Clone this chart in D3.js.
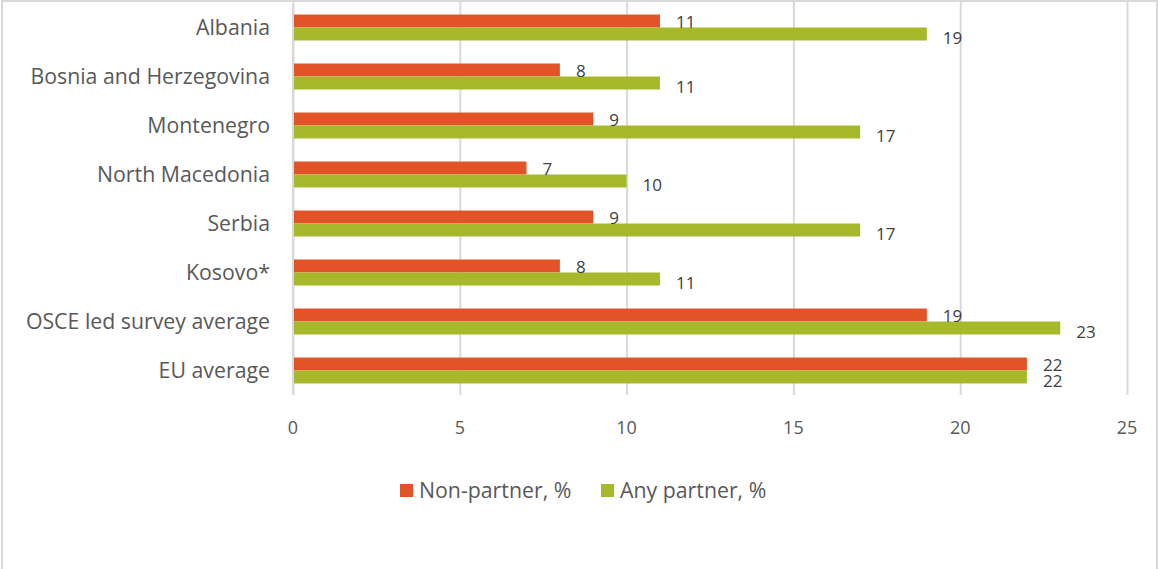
<!DOCTYPE html>
<html>
<head>
<meta charset="utf-8">
<script src="https://cdn.jsdelivr.net/npm/d3@7"></script>
<style>
  body { margin: 0; background: #fff; }
  svg { display: block; font-family: "Open Sans", sans-serif; }
  .grid line { stroke: #d9d9d9; stroke-width: 2; }
  .grid path { display: none; }
</style>
</head>
<body>
<div id="chart"></div>
<script>
'use strict';

const CATEGORIES = ['Albania', 'Bosnia and Herzegovina', 'Montenegro', 'North Macedonia',
  'Serbia', 'Kosovo*', 'OSCE led survey average', 'EU average']
const NON_PARTNER = [11, 8, 9, 7, 9, 8, 19, 22]
const ANY_PARTNER = [19, 11, 17, 10, 17, 11, 23, 22]
const SERIES_NAMES = ['Non-partner, %', 'Any partner, %']
const X_TICKS = [0, 5, 10, 15, 20, 25]

const COLORS = ['#e25428', '#a7b92b']
const TEXT = '#595959'

const W = 1158, H = 569
const m = {top: 3, left: 293, right: 31, bottom: 174}
const w = W - m.left - m.right
const h = H - m.top - m.bottom

const svg = d3.select('#chart').append('svg')
  .attr('width', W).attr('height', H)

// outer frame
svg.append('rect')
  .attr('x', 2).attr('y', 1).attr('width', W - 3).attr('height', H)
  .attr('fill', 'none').attr('stroke', '#d9d9d9').attr('stroke-width', 2)

const g = svg.append('g').attr('transform', 'translate(' + m.left + ',' + m.top + ')')

const x = d3.scaleLinear().domain([0, 25]).range([0, w])
const y = d3.scaleBand().domain(CATEGORIES).range([0, h]).paddingInner(0.47).paddingOuter(0.235)
const sub = d3.scaleBand().domain([0, 1]).range([0, y.bandwidth()])

g.append('g').attr('class', 'grid')
  .call(d3.axisBottom(x).tickValues(X_TICKS).tickSize(h - 1 + m.top).tickFormat(''))
  .attr('transform', 'translate(0,' + (-m.top + 1) + ')')

// category axis line
g.append('line').attr('x1', 0).attr('x2', 0).attr('y1', 0).attr('y2', h)
  .attr('stroke', '#d9d9d9').attr('stroke-width', 2)

const rows = CATEGORIES.map((c, i) => ({cat: c, vals: [NON_PARTNER[i], ANY_PARTNER[i]]}))

const row = g.selectAll('.row').data(rows).enter().append('g')
  .attr('transform', d => 'translate(0,' + y(d.cat) + ')')

row.selectAll('rect').data(d => d.vals).enter().append('rect')
  .attr('x', 1)
  .attr('y', (d, i) => sub(i))
  .attr('width', d => x(d) - 1)
  .attr('height', sub.bandwidth())
  .attr('fill', (d, i) => COLORS[i])

row.selectAll('.val').data(d => d.vals).enter().append('text')
  .attr('class', 'val')
  .attr('x', d => x(d) + 16)
  .attr('y', (d, i) => i === 0 ? 13 : 29)
  .attr('fill', '#404040')
  .attr('font-size', 17)
  .text(d => d)

// category labels
g.selectAll('.cat').data(CATEGORIES).enter().append('text')
  .attr('x', -23)
  .attr('y', d => y(d) + y.bandwidth() / 2 + 7)
  .attr('text-anchor', 'end')
  .attr('fill', TEXT)
  .attr('font-size', 21.3)
  .text(d => d)

// x tick labels
g.selectAll('.xt').data(X_TICKS).enter().append('text')
  .attr('x', d => x(d))
  .attr('y', 431)
  .attr('text-anchor', 'middle')
  .attr('fill', TEXT)
  .attr('font-size', 18)
  .text(d => d)

// legend
const legX = [400, 601]
const leg = svg.selectAll('.leg').data(SERIES_NAMES).enter().append('g')
  .attr('transform', (d, i) => 'translate(' + legX[i] + ',484)')
leg.append('rect').attr('width', 13).attr('height', 13).attr('fill', (d, i) => COLORS[i])
leg.append('text').attr('x', 19).attr('y', 14)
  .attr('fill', TEXT).attr('font-size', 21.3).text(d => d)
</script>
</body>
</html>
